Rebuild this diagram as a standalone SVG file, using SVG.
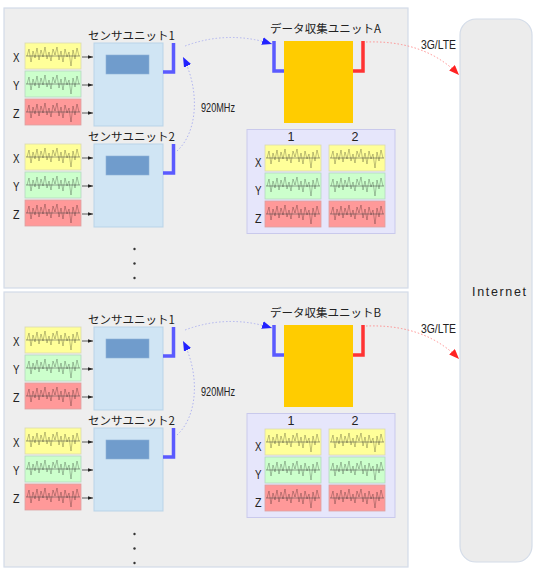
<svg xmlns="http://www.w3.org/2000/svg" xmlns:xlink="http://www.w3.org/1999/xlink" width="534" height="569" viewBox="0 0 534 569">
<style>
.panel{fill:#eeeeee;stroke:#d3dbe8;stroke-width:1.2}
.unit{fill:#d0e5f4;stroke:#b9d3e8;stroke-width:1}
.chip{fill:#709ccc;stroke:#8eb1d8;stroke-width:0.6}
.data{fill:#ffcc00}
.tbl{fill:#e6e6fb;stroke:#c9c9ec;stroke-width:1}
.yel{fill:#ffff99;stroke:#d9d9b0;stroke-width:0.8}
.grn{fill:#ccffcc;stroke:#b4d8c0;stroke-width:0.8}
.red{fill:#ff9999;stroke:#dba0a0;stroke-width:0.8}
.ant-b{fill:none;stroke:#5a5aff;stroke-width:3.5}
.ant-r{fill:none;stroke:#ff3333;stroke-width:3.5}
.t{font-family:"Noto Sans CJK JP","Liberation Sans",sans-serif;font-size:11.5px;fill:#222}
.l{font-family:"Liberation Sans","DejaVu Sans",sans-serif;font-size:12.5px;fill:#222}
.ax{font-family:"Liberation Sans","DejaVu Sans",sans-serif;font-size:13.5px;fill:#222}
.dot{fill:#333}
.feed{stroke:#333;stroke-width:0.8;marker-end:url(#sm)}
.rf{fill:none;stroke:#b0b4f0;stroke-width:1;stroke-dasharray:1.5 2}
.lte{fill:none;stroke:#ff8f8f;stroke-width:1;stroke-dasharray:1.5 2}
</style>
<defs>
<marker id="sm" viewBox="0 0 6 4" refX="6" refY="2" markerWidth="5" markerHeight="3.4" markerUnits="userSpaceOnUse" orient="auto"><path d="M0,0 L6,2 L0,4 Z" fill="#222"/></marker>
<marker id="ab" viewBox="0 0 10 8" refX="10" refY="4" markerWidth="10" markerHeight="8" markerUnits="userSpaceOnUse" orient="auto"><path d="M0,0 L10,4 L0,8 Z" fill="#2222ff"/></marker>
<marker id="ar" viewBox="0 0 10 8" refX="10" refY="4" markerWidth="10" markerHeight="8" markerUnits="userSpaceOnUse" orient="auto"><path d="M0,0 L10,4 L0,8 Z" fill="#ff2222"/></marker>
<g id="wave">
<path d="M1,13 H55" stroke="#555" stroke-width="0.7" fill="none" opacity="0.8"/>
<path d="M2,13 L4,6 L6,19 L8,8 L10,15 L12,5 L14,17 L16,7 L18,14 L20,4 L22,16 L24,9 L26,18 L28,6 L30,12 L32,4 L34,17 L36,8 L38,19 L40,6 L42,14 L44,9 L46,23 L48,7 L50,16 L52,5 L54,13" stroke="#000" stroke-opacity="0.35" stroke-width="0.7" fill="none"/>
</g>
<g id="xyz">
<rect class="yel" x="0" y="0" width="56" height="26"/><use href="#wave" x="0" y="0"/>
<rect class="grn" x="0" y="28" width="56" height="26"/><use href="#wave" x="0" y="28"/>
<rect class="red" x="0" y="56" width="56" height="26"/><use href="#wave" x="0" y="56"/>
</g>
<g id="sensor">
<text class="ax" x="13" y="62" textLength="6.5" lengthAdjust="spacingAndGlyphs">X</text>
<text class="ax" x="13" y="90" textLength="6.5" lengthAdjust="spacingAndGlyphs">Y</text>
<text class="ax" x="13" y="118" textLength="6.5" lengthAdjust="spacingAndGlyphs">Z</text>
<use href="#xyz" x="25" y="43"/>
<line class="feed" x1="82" y1="57" x2="93" y2="57"/>
<line class="feed" x1="82" y1="85" x2="93" y2="85"/>
<line class="feed" x1="82" y1="113" x2="93" y2="113"/>
<rect class="unit" x="94" y="43" width="69" height="83"/>
<rect class="chip" x="106" y="55" width="43" height="19"/>
<path class="ant-b" d="M163,72 H173.5 V43"/>
</g>
<g id="table">
<rect class="tbl" x="247" y="129.5" width="148" height="104"/>
<text class="l" x="291" y="141" text-anchor="middle" font-size="11.5">1</text>
<text class="l" x="355" y="141" text-anchor="middle" font-size="11.5">2</text>
<text class="ax" x="255" y="167" textLength="6.5" lengthAdjust="spacingAndGlyphs">X</text>
<text class="ax" x="255" y="195" textLength="6.5" lengthAdjust="spacingAndGlyphs">Y</text>
<text class="ax" x="255" y="223" textLength="6.5" lengthAdjust="spacingAndGlyphs">Z</text>
<use href="#xyz" x="265" y="145"/>
<use href="#xyz" x="329" y="145"/>
</g>
</defs>

<rect width="534" height="569" fill="#ffffff"/>

<g id="panel-a">
<rect class="panel" x="4" y="8" width="404" height="280"/>
</g>
<g id="panel-b">
<rect class="panel" x="4" y="292" width="404" height="275"/>
</g>

<g id="internet">
<rect x="460" y="19" width="72" height="543" rx="16" fill="#ececec" stroke="#d4dce8" stroke-width="1.2"/>
<text class="l" x="472" y="296" textLength="54" font-size="12.5">Internet</text>
</g>

<g id="sensor-a1">
<use href="#sensor"/>
<text class="t" x="88" y="39.5" textLength="87">センサユニット1</text>
</g>
<g id="sensor-a2">
<use href="#sensor" y="101"/>
<text class="t" x="88" y="141" textLength="87">センサユニット2</text>
</g>
<g id="more-a">
<circle class="dot" cx="134.5" cy="249" r="1.2"/>
<circle class="dot" cx="134.5" cy="263.5" r="1.2"/>
<circle class="dot" cx="134.5" cy="278" r="1.2"/>
</g>
<g id="collector-a">
<text class="t" x="270" y="33" textLength="111">データ収集ユニットA</text>
<rect class="data" x="284" y="41" width="69" height="82"/>
<path class="ant-b" d="M284,71 H274 V41"/>
<path class="ant-r" d="M353,71 H363 V41"/>
</g>
<g id="table-a">
<use href="#table"/>
</g>

<g id="sensor-b1">
<use href="#sensor" y="284"/>
<text class="t" x="88" y="323.5" textLength="87">センサユニット1</text>
</g>
<g id="sensor-b2">
<use href="#sensor" y="385"/>
<text class="t" x="88" y="425" textLength="87">センサユニット2</text>
</g>
<g id="more-b">
<circle class="dot" cx="134.5" cy="534" r="1.2"/>
<circle class="dot" cx="134.5" cy="548.5" r="1.2"/>
<circle class="dot" cx="134.5" cy="563" r="1.2"/>
</g>
<g id="collector-b">
<text class="t" x="270" y="317" textLength="111">データ収集ユニットB</text>
<rect class="data" x="284" y="325" width="69" height="82"/>
<path class="ant-b" d="M284,355 H274 V325"/>
<path class="ant-r" d="M353,355 H363 V325"/>
</g>
<g id="table-b">
<use href="#table" y="284"/>
</g>

<g id="connectors">
<path class="rf" d="M185,46 Q228,30 272,44" marker-end="url(#ab)"/>
<path class="rf" d="M177,151 C198,132 200,90 183,57" marker-end="url(#ab)"/>
<path class="lte" d="M366,42 Q425,40 459,75" marker-end="url(#ar)"/>
<path class="rf" d="M185,330 Q228,314 272,328" marker-end="url(#ab)"/>
<path class="rf" d="M177,435 C198,416 200,374 183,341" marker-end="url(#ab)"/>
<path class="lte" d="M366,326 Q425,324 459,359" marker-end="url(#ar)"/>
<text class="l" x="201" y="111.5" textLength="34" lengthAdjust="spacingAndGlyphs" font-size="12">920MHz</text>
<text class="l" x="421" y="48.5" textLength="35" lengthAdjust="spacingAndGlyphs" font-size="12">3G/LTE</text>
<text class="l" x="201" y="395.5" textLength="34" lengthAdjust="spacingAndGlyphs" font-size="12">920MHz</text>
<text class="l" x="421" y="332.5" textLength="35" lengthAdjust="spacingAndGlyphs" font-size="12">3G/LTE</text>
</g>
</svg>
